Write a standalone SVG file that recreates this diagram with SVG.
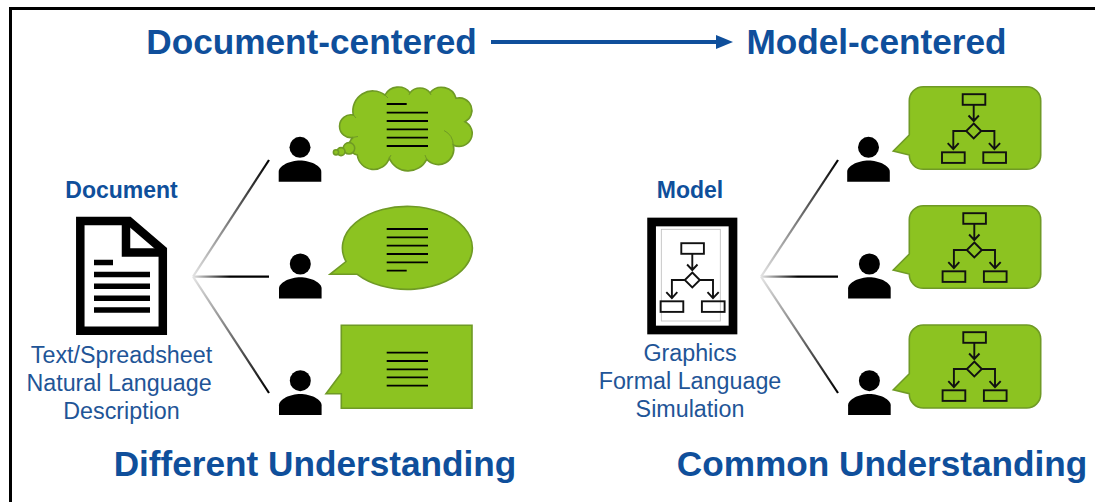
<svg xmlns="http://www.w3.org/2000/svg" width="1095" height="502" viewBox="0 0 1095 502">
<style>
text{font-family:"Liberation Sans",Arial,sans-serif;fill:#0f4f9b;text-anchor:middle}
.h{font-size:35.2px;font-weight:700}
.b{font-size:23px;font-weight:700}
.r{font-size:23.3px;fill:#1f5597}
.g{fill:#8cc321;stroke:#6f9a25;stroke-width:1.6}
.tl{stroke:#000;stroke-width:1.8;fill:none}
.fl{fill:none;stroke:#111;stroke-width:1.9}
.fan{fill:none;stroke-width:2.2}
</style>
<defs>
<linearGradient id="fade"><stop offset="0" stop-color="#e4e4e4"/><stop offset=".45" stop-color="#808080"/><stop offset="1" stop-color="#000"/></linearGradient>
<linearGradient id="f1" href="#fade" gradientUnits="userSpaceOnUse" x1="193" y1="276.7" x2="269" y2="160"/>
<linearGradient id="f2" href="#fade" gradientUnits="userSpaceOnUse" x1="193" y1="276.7" x2="230" y2="276.7"/>
<linearGradient id="f3" href="#fade" gradientUnits="userSpaceOnUse" x1="193" y1="276.7" x2="269" y2="393"/>
<linearGradient id="f4" href="#fade" gradientUnits="userSpaceOnUse" x1="761" y1="276.7" x2="838" y2="160"/>
<linearGradient id="f5" href="#fade" gradientUnits="userSpaceOnUse" x1="761" y1="276.7" x2="798" y2="276.7"/>
<linearGradient id="f6" href="#fade" gradientUnits="userSpaceOnUse" x1="761" y1="276.7" x2="838" y2="393"/>
<g id="person"><circle r="10.5"/><path d="M-21.3 34.4V24.5C-21.3 18.5-10 13.3 0 13.3S21.3 18.5 21.3 24.5V34.4Z"/></g>
<g id="flow" class="fl">
<rect x="-11" y="-36.8" width="22.6" height="10.6"/>
<path d="M0-26V-10M-5.2-15.5L0-10L5.2-15.5"/>
<path d="M0-7.5L7.5 0L0 7.5L-7.5 0Z"/>
<path d="M-7.5 0H-20.4V18M-26 12.2L-20.4 18.2L-15 12.2"/>
<path d="M7.5 0H20.7V18M15.2 12.2L20.7 18.2L26.4 12.2"/>
<rect x="-31.7" y="21.3" width="22.7" height="10.6"/>
<rect x="9.6" y="21.3" width="22.7" height="10.6"/>
</g>
</defs>
<rect width="1095" height="502" fill="#fff"/>
<path d="M10.5 510V8.5H1100" fill="none" stroke="#000" stroke-width="3"/>

<g id="title-left"><text class="h" x="311.5" y="54">Document-centered</text></g>
<g id="title-right"><text class="h" x="876.5" y="54">Model-centered</text></g>
<g id="footer-left"><text class="h" x="315" y="476">Different Understanding</text></g>
<g id="footer-right"><text class="h" x="882" y="476">Common Understanding</text></g>

<g id="connectors">
<path d="M491 42H720" fill="none" stroke="#0f4f9b" stroke-width="4"/>
<path d="M733 42L716 35V49Z" fill="#0f4f9b"/>
<line class="fan" x1="193" y1="276.7" x2="269" y2="160" stroke="url(#f1)"/>
<path class="fan" d="M193 276.7H269" stroke="url(#f2)"/>
<line class="fan" x1="193" y1="276.7" x2="269" y2="393" stroke="url(#f3)"/>
<line class="fan" x1="761" y1="276.7" x2="838" y2="160" stroke="url(#f4)"/>
<path class="fan" d="M761 276.7H838" stroke="url(#f5)"/>
<line class="fan" x1="761" y1="276.7" x2="838" y2="393" stroke="url(#f6)"/>
</g>

<g id="document">
<text class="b" x="121.5" y="198">Document</text>
<path d="M80.3 221H129L162.8 250V330.8H80.3Z" fill="#fff" stroke="#000" stroke-width="8.5"/>
<path d="M126 222V252.5H163" fill="none" stroke="#000" stroke-width="8.5"/>
<path d="M94 262.5H113M94 274.5H150M94 286.3H150M94 298.2H150M94 310H150" stroke="#000" stroke-width="5.6"/>
<text class="r" x="121.5" y="363.2">Text/Spreadsheet</text>
<text class="r" x="119" y="391.2">Natural Language</text>
<text class="r" x="121.5" y="419">Description</text>
</g>

<g id="model">
<text class="b" x="690" y="198">Model</text>
<rect x="651.6" y="222" width="81.4" height="108" fill="#fff" stroke="#000" stroke-width="8.7"/>
<rect x="661.3" y="229.3" width="59" height="91.7" fill="none" stroke="#bbb" stroke-width=".8"/>
<use href="#flow" x="692.3" y="280"/>
<text class="r" x="690" y="360.7">Graphics</text>
<text class="r" x="690" y="388.7">Formal Language</text>
<text class="r" x="690" y="416.7">Simulation</text>
</g>

<g id="person-left-1"><use href="#person" x="300" y="147.3"/></g>
<g id="person-left-2"><use href="#person" x="300.3" y="264"/></g>
<g id="person-left-3"><use href="#person" x="300.3" y="380.7"/></g>
<g id="person-right-1"><use href="#person" x="868.5" y="147.3"/></g>
<g id="person-right-2"><use href="#person" x="869.4" y="264"/></g>
<g id="person-right-3"><use href="#person" x="869.4" y="380.7"/></g>

<g id="thought-bubble">
<path class="g" d="M353.3 137.3A11.4 11.4 0 1 1 353.3 115A20 20 0 0 1 385 95A15 15 0 0 1 410 92.7A13 13 0 0 1 430 92.7A15 15 0 0 1 456 98.3A12.6 12.6 0 0 1 465 121.7A13 13 0 1 1 453.3 145A15.5 15.5 0 0 1 426.7 159.3A20.5 20.5 0 0 1 389.3 158.3A16.5 16.5 0 0 1 357.3 155A10 10 0 0 1 353.3 137.3Z"/>
<path d="M444 130.5Q453 135 453.3 145M426.7 159.3L425 155M389.3 158.3L391 155M385 95L388 98M410 92.7L409 95M430 92.7L431 95M353.3 137.3L358 136.5M353.3 115L356 118" fill="none" stroke="#6f9a25" stroke-width="1"/>
<circle class="g" cx="349" cy="148.3" r="5.7" stroke-width="1.2"/>
<circle class="g" cx="341" cy="151.6" r="4" stroke-width="1.2"/>
<circle class="g" cx="336" cy="152.3" r="2.6" stroke-width="1.2"/>
<path class="tl" d="M386.7 104H406.7M386.7 112.7H428M386.7 121H428M386.7 129.3H428M386.7 137.7H428M386.7 146H428"/>
</g>

<g id="oval-bubble">
<path class="g" d="M346 261.5L330 274.3H357.3A65 41.5 0 1 0 346 261.5Z"/>
<path class="tl" d="M386.7 229H428M386.7 237.3H428M386.7 245.7H428M386.7 254H428M386.7 262.3H428M386.7 270.7H406.7"/>
</g>

<g id="rect-bubble">
<path class="g" d="M341.3 325.3H472V408.3H341.3V393.7H326L341.3 373.3Z"/>
<path class="tl" d="M386.7 352.7H428M386.7 361H428M386.7 369.3H428M386.7 377.3H428M386.7 385.7H428"/>
</g>

<g id="model-bubble-1">
<path class="g" d="M923.3 86.7H1026.7A14 14 0 0 1 1040.7 100.7V155.3A14 14 0 0 1 1026.7 169.3H923.3A14 14 0 0 1 909.3 155.3V155L893.3 151L909.3 135V100.7A14 14 0 0 1 923.3 86.7Z"/>
<use href="#flow" x="973.7" y="131"/>
</g>
<g id="model-bubble-2">
<path class="g" d="M923.3 205.7H1026.7A14 14 0 0 1 1040.7 219.7V274.3A14 14 0 0 1 1026.7 288.3H923.3A14 14 0 0 1 909.3 274.3V274L893.3 270L909.3 254V219.7A14 14 0 0 1 923.3 205.7Z"/>
<use href="#flow" x="974.3" y="250"/>
</g>
<g id="model-bubble-3">
<path class="g" d="M923.3 325H1026.7A14 14 0 0 1 1040.7 339V394A14 14 0 0 1 1026.7 408H923.3A14 14 0 0 1 909.3 394V393.7L893.3 389.7L909.3 373.7V339A14 14 0 0 1 923.3 325Z"/>
<use href="#flow" x="974.3" y="369"/>
</g>
</svg>
